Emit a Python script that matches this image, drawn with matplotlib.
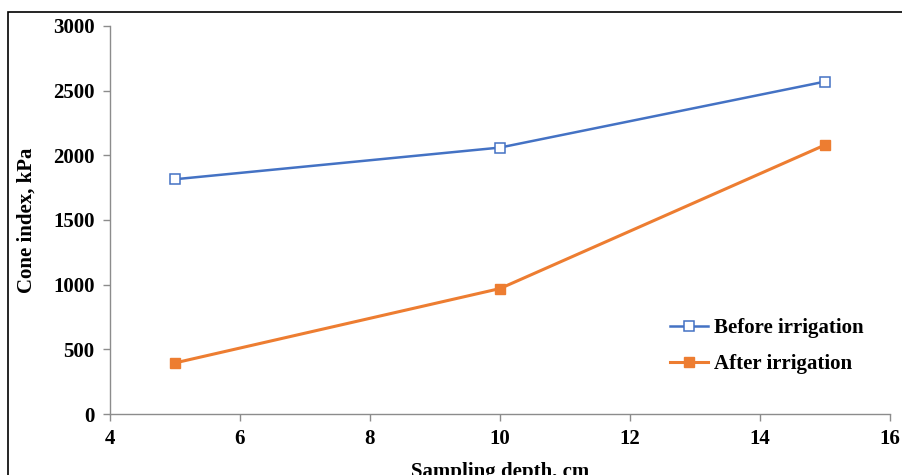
import matplotlib
matplotlib.use("Agg")
import matplotlib.pyplot as plt
from matplotlib.patches import Rectangle

# data
depth = [5, 10, 15]
before = [1815, 2060, 2570]
after = [395, 970, 2080]
labels = ["Before irrigation", "After irrigation"]

plt.rcParams['font.family'] = ['Liberation Serif', 'DejaVu Serif']
plt.rcParams['font.weight'] = 'bold'

fig = plt.figure(figsize=(9.03, 4.75), dpi=100)
ax = fig.add_axes([0.1218, 0.1284, 0.8638, 0.8169])

# outer frame of the chart area (runs off right and bottom)
fig.patches.append(Rectangle((8 / 903, -0.1), 1.2, 1 - 12 / 475 + 0.1,
                             transform=fig.transFigure, fill=False,
                             edgecolor='black', linewidth=1.2))

ax.plot(depth, before, color='#4472C4', linewidth=1.8, marker='s', markersize=6.5,
        markerfacecolor='white', markeredgecolor='#4472C4', markeredgewidth=1.1,
        label=labels[0])
ax.plot(depth, after, color='#ED7D31', linewidth=2.2, marker='s', markersize=6.5,
        markerfacecolor='#ED7D31', markeredgecolor='#ED7D31', label=labels[1])

ax.set_xlim(4, 16)
ax.set_ylim(0, 3000)
ax.set_xticks(range(4, 17, 2))
ax.set_yticks(range(0, 3001, 500))

for s in ['top', 'right']:
    ax.spines[s].set_visible(False)
for s in ['left', 'bottom']:
    ax.spines[s].set_color('#8c8c8c')
    ax.spines[s].set_linewidth(1)
ax.tick_params(axis='both', direction='out', length=5, width=1, color='#8c8c8c',
               labelsize=15, pad=6)
for t in ax.get_xticklabels() + ax.get_yticklabels():
    t.set_fontweight('bold')

ax.set_xlabel('Sampling depth, cm', fontsize=15, fontweight='bold', labelpad=9)
ax.set_ylabel('Cone index, kPa', fontsize=15, fontweight='bold', labelpad=12)

leg = ax.legend(loc='lower right', bbox_to_anchor=(0.99, 0.055), frameon=False,
                prop={'weight': 'bold', 'size': 15}, handlelength=1.8,
                labelspacing=0.75, handletextpad=0.3)

fig.savefig('out.png', dpi=100)
